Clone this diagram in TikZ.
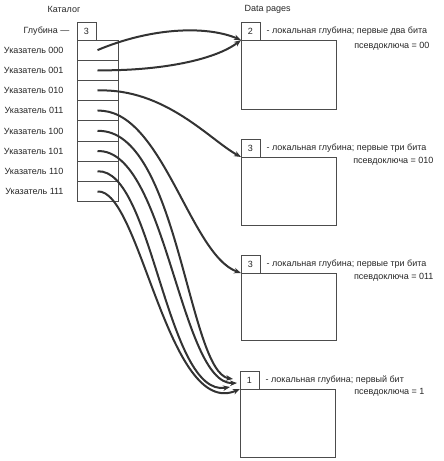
\documentclass[tikz,border=0pt]{standalone}
\usepackage{fontspec}
\setmainfont{Liberation Sans}
\usetikzlibrary{positioning,arrows.meta}

\tikzset{
  box/.style={draw=black!70, line width=0.8pt, inner sep=0pt, outer sep=0pt},
  cell/.style={box, minimum width=41pt, minimum height=20.2pt},
  depthbox/.style={box, minimum width=19pt, minimum height=18pt},
  pagebox/.style={box, minimum width=95pt, minimum height=68pt},
  ptr/.style={line width=2pt, draw=black!80, -{Stealth[length=7pt,width=5.5pt]}},
}

\begin{document}
\begin{tikzpicture}[x=1pt, y=-1pt, every node/.style={font=\fontsize{9}{10}\selectfont, text=black!85}]
    \useasboundingbox (0,0) rectangle (444,461);

    % Catalog
    \node (cattitle) at (64,9) {Каталог};
    \node[depthbox] (gdepth) at (86.5,31) {3};
    \node[anchor=east, left=4pt of gdepth] (gdepthlabel) {Глубина ---};
    \node[cell] (c000) at (97.5,50.1) {};
    \node[cell] (c001) at (97.5,70.3) {};
    \node[cell] (c010) at (97.5,90.5) {};
    \node[cell] (c011) at (97.5,110.7) {};
    \node[cell] (c100) at (97.5,130.9) {};
    \node[cell] (c101) at (97.5,151.1) {};
    \node[cell] (c110) at (97.5,171.3) {};
    \node[cell] (c111) at (97.5,191.5) {};
    \node[left=10pt of c000] (l000) {Указатель 000};
    \node[left=10pt of c001] (l001) {Указатель 001};
    \node[left=10pt of c010] (l010) {Указатель 010};
    \node[left=10pt of c011] (l011) {Указатель 011};
    \node[left=10pt of c100] (l100) {Указатель 100};
    \node[left=10pt of c101] (l101) {Указатель 101};
    \node[left=10pt of c110] (l110) {Указатель 110};
    \node[left=10pt of c111] (l111) {Указатель 111};

    % Data pages
    \node[anchor=west] (pagestitle) at (241,9) {Data pages};

    \node[pagebox, minimum height=69pt, anchor=north west] (pg1) at (241,40) {};
    \node[depthbox, above right=0pt of pg1.north west] (d1) {2};
    \node[right=3pt of d1] (t1a) {- локальная глубина; первые два бита};
    \node[anchor=east] (t1b) at (433,46) {псевдоключа = 00};

    \node[pagebox, anchor=north west] (pg2) at (241,157) {};
    \node[depthbox, above right=0pt of pg2.north west] (d2) {3};
    \node[right=3pt of d2] (t2a) {- локальная глубина; первые три бита};
    \node[anchor=east] (t2b) at (437,161) {псевдоключа = 010};

    \node[pagebox, minimum height=67pt, anchor=north west] (pg3) at (241,273) {};
    \node[depthbox, above right=0pt of pg3.north west] (d3) {3};
    \node[right=3pt of d3] (t3a) {- локальная глубина; первые три бита};
    \node[anchor=east] (t3b) at (437,277) {псевдоключа = 011};

    \node[pagebox, anchor=north west] (pg4) at (240,389) {};
    \node[depthbox, above right=0pt of pg4.north west] (d4) {1};
    \node[right=3pt of d4] (t4a) {- локальная глубина; первый бит};
    \node[anchor=east] (t4b) at (428,392) {псевдоключа = 1};

    % Pointers into the pages
    \coordinate (in100) at (233,379);
    \coordinate (in101) at (237,383);
    \coordinate (in110) at (230,387);

    \draw[ptr] (c000.center) .. controls (150,28) and (205,25) .. (pg1.north west);
    \draw[ptr] (c001.center) .. controls (160,71) and (215,60) .. (pg1.north west);
    \draw[ptr] (c010.center) .. controls (165,88) and (210,140) .. (pg2.north west);
    \draw[ptr] (c011.center) .. controls (162,108) and (190,255) .. (pg3.north west);
    \draw[ptr] (c100.center) .. controls (178,128) and (188,372) .. (in100);
    \draw[ptr] (c101.center) .. controls (166,148) and (180,385) .. (in101);
    \draw[ptr] (c110.center) .. controls (153,168) and (166,398) .. (in110);
    \draw[ptr] (c111.center) .. controls (140,188) and (168,420) .. (pg4.north west);
\end{tikzpicture}
\end{document}
